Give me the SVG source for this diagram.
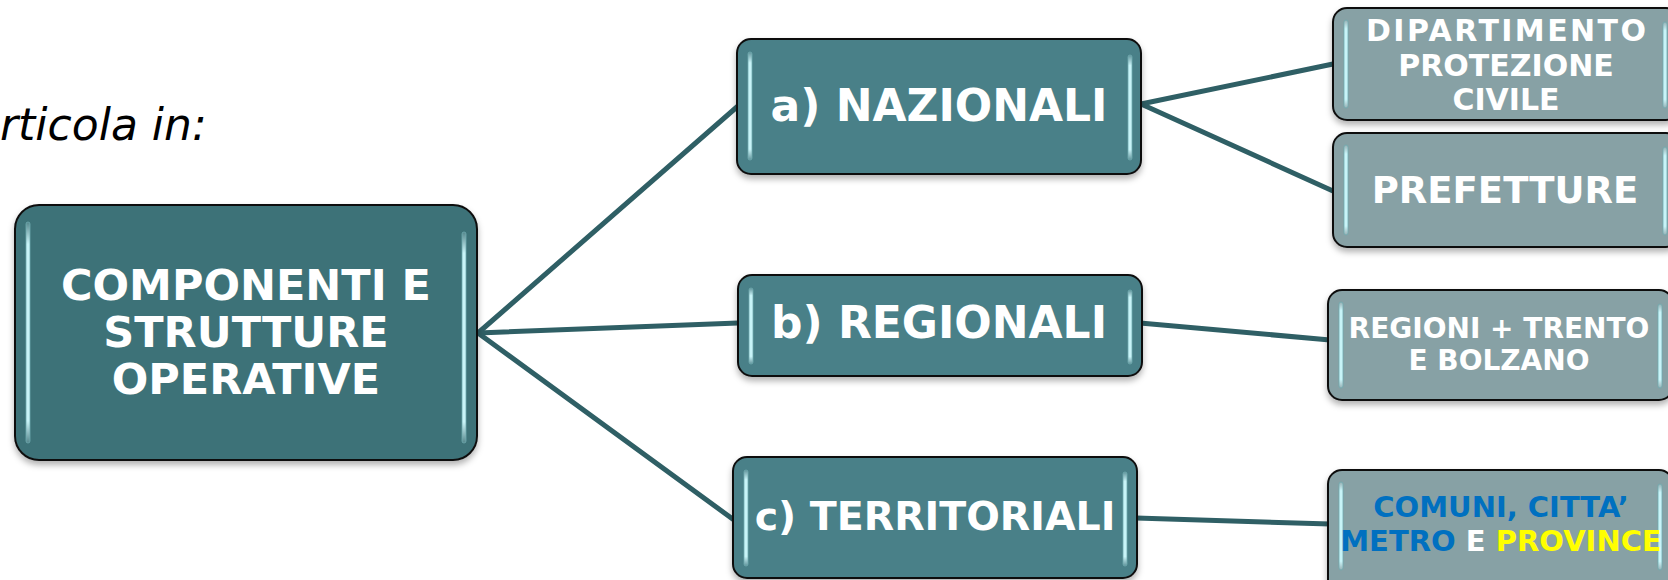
<svg xmlns="http://www.w3.org/2000/svg" width="1668" height="580" viewBox="0 0 1668 580">
<defs>
<linearGradient id="hl" x1="0" y1="0" x2="0" y2="1">
<stop offset="0" stop-color="#d8fbff" stop-opacity="0.15"/>
<stop offset="0.1" stop-color="#c8f4f8" stop-opacity="1"/>
<stop offset="0.9" stop-color="#c8f4f8" stop-opacity="1"/>
<stop offset="1" stop-color="#d8fbff" stop-opacity="0.15"/>
</linearGradient>
<filter id="sh" x="-10%" y="-10%" width="120%" height="130%">
<feDropShadow dx="0" dy="4" stdDeviation="3" flood-color="#000" flood-opacity="0.3"/>
</filter>
</defs>
<style>
.box{stroke:#111;stroke-width:2;filter:url(#sh)}
.root{fill:#3e7278}
.mid{fill:#4a8088}
.leaf{fill:#87a1a5}
.hl{fill:url(#hl);stroke:#6fa9ae;stroke-width:0.8}
.t{font-family:"DejaVu Sans",Verdana,sans-serif;font-weight:bold;fill:#fff;text-anchor:middle}
.conn{stroke:#2f5f65;stroke-width:5;fill:none;stroke-linecap:round}
</style>
<text x="0" y="140" font-family="DejaVu Sans,Verdana,sans-serif" font-style="italic" font-size="44" fill="#000">rticola in:</text>
<g id="connectors">
<line class="conn" x1="478" y1="333" x2="738" y2="106"/>
<line class="conn" x1="478" y1="333" x2="738" y2="323"/>
<line class="conn" x1="478" y1="333" x2="734" y2="520"/>
<line class="conn" x1="1141" y1="104" x2="1333" y2="64"/>
<line class="conn" x1="1141" y1="104" x2="1333" y2="191"/>
<line class="conn" x1="1140" y1="323" x2="1330" y2="340"/>
<line class="conn" x1="1136" y1="518" x2="1330" y2="524"/>
</g>
<g id="root">
<rect class="box root" x="15" y="205" width="462" height="255" rx="24"/>
<rect class="hl" x="26" y="222" width="4" height="221" rx="2"/>
<rect class="hl" x="462" y="232" width="4" height="211" rx="2"/>
<text class="t" font-size="43" x="246" y="300">COMPONENTI E</text>
<text class="t" font-size="43" x="246" y="347">STRUTTURE</text>
<text class="t" font-size="43" x="246" y="394">OPERATIVE</text>
</g>
<g id="nazionali">
<rect class="box mid" x="737" y="39" width="404" height="135" rx="14"/>
<rect class="hl" x="748" y="52" width="4" height="108" rx="2"/>
<rect class="hl" x="1128" y="55" width="4" height="105" rx="2"/>
<text class="t" font-size="44" x="939" y="121">a) NAZIONALI</text>
</g>
<g id="regionali">
<rect class="box mid" x="738" y="275" width="404" height="101" rx="14"/>
<rect class="hl" x="749" y="288" width="4" height="76" rx="2"/>
<rect class="hl" x="1128" y="290" width="4" height="74" rx="2"/>
<text class="t" font-size="44" x="939" y="338">b) REGIONALI</text>
</g>
<g id="territoriali">
<rect class="box mid" x="733" y="457" width="404" height="121" rx="14"/>
<rect class="hl" x="744" y="470" width="4" height="96" rx="2"/>
<rect class="hl" x="1123" y="472" width="4" height="94" rx="2"/>
<text class="t" font-size="39.5" x="935" y="530">c) TERRITORIALI</text>
</g>
<g id="dipartimento">
<rect class="box leaf" x="1333" y="8" width="347" height="112" rx="14"/>
<rect class="hl" x="1344" y="20" width="4" height="88" rx="2"/>
<rect class="hl" x="1663" y="22" width="4" height="86" rx="2"/>
<text class="t" font-size="30" x="1506" y="41" textLength="280" lengthAdjust="spacing">DIPARTIMENTO</text>
<text class="t" font-size="30" x="1506" y="76">PROTEZIONE</text>
<text class="t" font-size="30" x="1506" y="110">CIVILE</text>
</g>
<g id="prefetture">
<rect class="box leaf" x="1333" y="133" width="347" height="114" rx="14"/>
<rect class="hl" x="1344" y="145" width="4" height="90" rx="2"/>
<rect class="hl" x="1663" y="147" width="4" height="88" rx="2"/>
<text class="t" font-size="37" x="1505" y="203">PREFETTURE</text>
</g>
<g id="regioni">
<rect class="box leaf" x="1328" y="290" width="345" height="110" rx="14"/>
<rect class="hl" x="1339" y="302" width="4" height="86" rx="2"/>
<rect class="hl" x="1658" y="304" width="4" height="84" rx="2"/>
<text class="t" font-size="28" x="1499" y="338">REGIONI + TRENTO</text>
<text class="t" font-size="28" x="1499" y="370">E BOLZANO</text>
</g>
<g id="comuni">
<rect class="box leaf" x="1328" y="470" width="345" height="125" rx="14"/>
<rect class="hl" x="1339" y="482" width="4" height="88" rx="2"/>
<rect class="hl" x="1658" y="484" width="4" height="86" rx="2"/>
<text class="t" font-size="29" x="1501" y="517" style="fill:#0070c0">COMUNI, CITTA’</text>
<text class="t" font-size="29" x="1501" y="551"><tspan style="fill:#0070c0">METRO </tspan><tspan>E</tspan><tspan style="fill:#ffff00"> PROVINCE</tspan></text>
</g>
</svg>
